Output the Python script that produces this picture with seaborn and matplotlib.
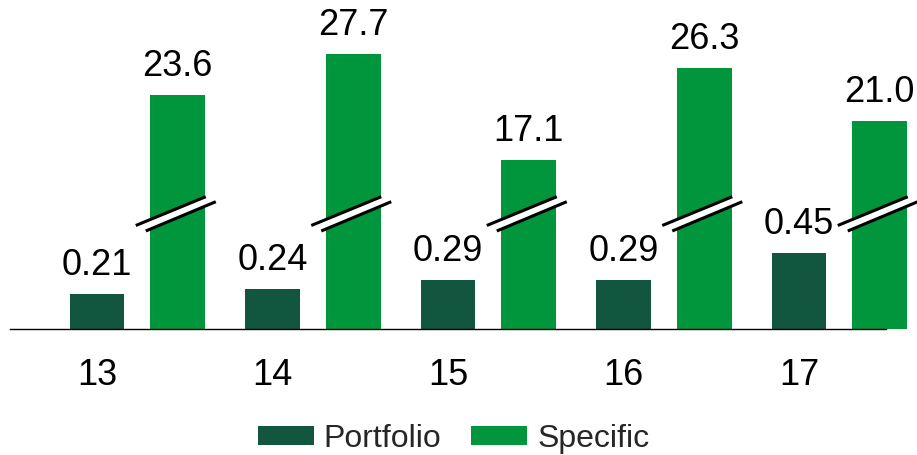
import numpy as np
import pandas as pd
import matplotlib
matplotlib.use("Agg")
import matplotlib.pyplot as plt
from matplotlib.patches import Patch, Polygon
from matplotlib.lines import Line2D
import seaborn as sns

# Data
categories = ["13", "14", "15", "16", "17"]
portfolio = [0.21, 0.24, 0.29, 0.29, 0.45]
specific = [23.6, 27.7, 17.1, 26.3, 21.0]
series_names = ["Portfolio", "Specific"]
colors = {"Portfolio": "#125640", "Specific": "#01963B"}

df = pd.DataFrame({
    "category": categories * 2,
    "series": ["Portfolio"] * len(categories) + ["Specific"] * len(categories),
    "value": portfolio + specific,
})

sns.set_theme(style="white")
plt.rcParams["font.family"] = ["Liberation Sans", "DejaVu Sans"]

W, H = 917, 455
fig = plt.figure(figsize=(W / 100, H / 100), dpi=100)

base_px = 329.0      # baseline, pixels from top
top_px = 20.0
left_px, right_px = 10.0, 886.0
ax = fig.add_axes([left_px / W, 1 - base_px / H,
                   (right_px - left_px) / W, (base_px - top_px) / H])
ax2 = ax.twinx()

bar_kw = dict(x="category", y="value", hue="series", hue_order=series_names,
              order=categories, palette=colors, width=0.92, gap=0.32,
              dodge=True, saturation=1, linewidth=0, legend=False)

sns.barplot(data=df[df.series == "Portfolio"], ax=ax, **bar_kw)
sns.barplot(data=df[df.series == "Specific"], ax=ax2, **bar_kw)
for p in ax.patches + ax2.patches:
    p.set_clip_on(False)

# Scales: each series on its own axis
p_scale = 167.8   # px per unit, portfolio
s_scale = 9.91    # px per unit, specific
ax.set_ylim(0, (base_px - top_px) / p_scale)
ax2.set_ylim(0, (base_px - top_px) / s_scale)

unit_px = 175.5
grp0_px = 137.4
ax.set_xlim((left_px - grp0_px) / unit_px, (right_px - grp0_px) / unit_px)

off = 0.23
xpos = np.arange(len(categories))

for a in (ax, ax2):
    a.set_xlabel("")
    a.set_ylabel("")
    a.set_yticks([])
    for s in a.spines.values():
        s.set_visible(False)
    a.grid(False)

ax.set_xticks(xpos - off)
ax.set_xticklabels(categories, fontsize=26, color="black")
ax.tick_params(axis="x", length=0, pad=21)
ax2.spines["bottom"].set_visible(True)
ax2.spines["bottom"].set_color("black")
ax2.spines["bottom"].set_linewidth(1.0)
ax2.spines["bottom"].set_zorder(10)

# Value labels
for i, v in enumerate(portfolio):
    ax.annotate(f"{v:.2f}", (xpos[i] - off, v), xytext=(0, 13.7),
                textcoords="offset points", ha="center", va="baseline",
                fontsize=26, color="black", annotation_clip=False)
for i, v in enumerate(specific):
    ax2.annotate(f"{v:.1f}", (xpos[i] + off, v), xytext=(0, 13.7),
                 textcoords="offset points", ha="center", va="baseline",
                 fontsize=26, color="black", annotation_clip=False)

# Axis-break marks across the specific bars
def px_to_data(dx_px, y_px):
    return dx_px / unit_px, (base_px - y_px) / s_scale

upper = [(-42, 225.5), (28, 196.7)]
lower = [(-32, 231.0), (38, 201.7)]
for i in range(len(categories)):
    cx = xpos[i] + off
    up = [(cx + x, y) for x, y in (px_to_data(dx, py) for dx, py in upper)]
    lo = [(cx + x, y) for x, y in (px_to_data(dx, py) for dx, py in lower)]
    band = Polygon([up[0], up[1], lo[1], lo[0]], closed=True,
                   facecolor="white", edgecolor="none", zorder=5,
                   clip_on=False)
    ax2.add_patch(band)
    for seg in (up, lo):
        ax2.add_line(Line2D([seg[0][0], seg[1][0]], [seg[0][1], seg[1][1]],
                            color="black", lw=2.2, zorder=6,
                            solid_capstyle="butt", clip_on=False))

# Legend
handles = [Patch(facecolor=colors[n], edgecolor="none", label=n)
           for n in series_names]
fig.legend(handles=handles, loc="center", bbox_to_anchor=(0.4946, 0.036),
           ncol=2, frameon=False, fontsize=23, handlelength=1.75,
           handleheight=0.53, handletextpad=0.31, columnspacing=0.94,
           borderaxespad=0, borderpad=0)

fig.savefig("out.png", dpi=100)
